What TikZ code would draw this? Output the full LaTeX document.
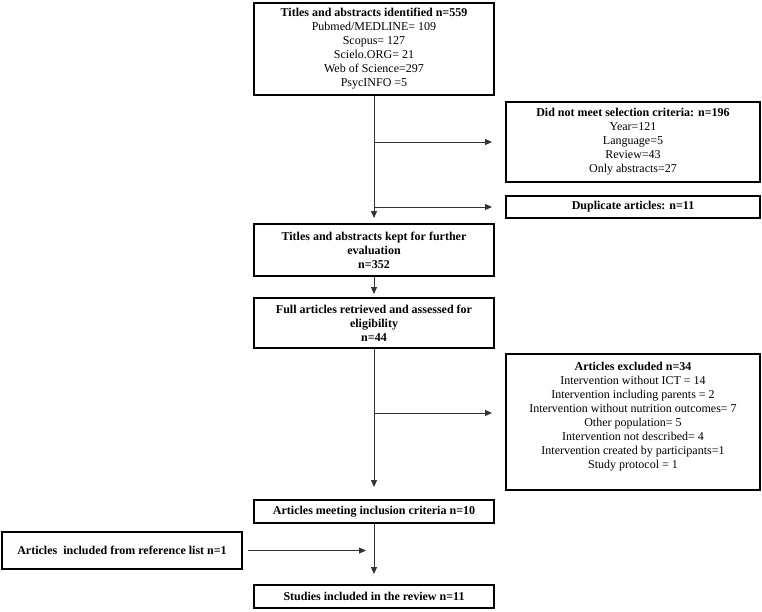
\documentclass[tikz,border=0pt]{standalone}
\usepackage{fontspec}
\setmainfont{Liberation Serif}
\usetikzlibrary{arrows.meta,positioning,calc}
\definecolor{FlowGray}{HTML}{333333}

\begin{document}
\begin{tikzpicture}[x=1pt,y=-1pt,>={Triangle[length=7pt,width=6pt]},
  box/.style={draw,line width=2pt,align=center,inner sep=2pt,
    font=\fontsize{12}{14}\selectfont},
  mainbox/.style={box,minimum width=240pt},
  sidebox/.style={box,minimum width=254pt},
  flow/.style={->,FlowGray,line width=0.8pt}]
  \useasboundingbox (0,0) rectangle (762,611);
  % central column
  \node[mainbox,minimum height=92pt] (ident) at (374,49)
    {\textbf{Titles and abstracts identified n=559}\\Pubmed/MEDLINE= 109\\Scopus= 127\\Scielo.ORG= 21\\Web of Science=297\\PsycINFO =5};
  \node[mainbox,minimum height=52pt] (kept) at (374,250)
    {\textbf{Titles and abstracts kept for further}\\\textbf{evaluation}\\\textbf{n=352}};
  \node[mainbox,minimum height=50pt] (full) at (374,323)
    {\textbf{Full articles retrieved and assessed for}\\\textbf{eligibility}\\\textbf{n=44}};
  \node[mainbox,minimum height=23pt] (meet) at (374,511.5)
    {\textbf{Articles meeting inclusion criteria n=10}};
  \node[mainbox,minimum height=23pt] (final) at (374,596.5)
    {\textbf{Studies included in the review n=11}};
  % exclusions on the right
  \node[sidebox,minimum height=80pt] (notmet) at (633,142)
    {\textbf{Did not meet selection criteria: n=196}\\Year=121\\Language=5\\Review=43\\Only abstracts=27};
  \node[sidebox,minimum height=22pt] (dup) at (633,207)
    {\textbf{Duplicate articles: n=11}};
  \node[sidebox,minimum height=136pt] (excl) at (633,422)
    {\textbf{Articles excluded n=34}\\Intervention without ICT = 14\\Intervention including parents = 2\\Intervention without nutrition outcomes= 7\\Other population= 5\\Intervention not described= 4\\Intervention created by participants=1\\Study protocol = 1\\[0pt]\mbox{}};
  % extra source on the left
  \node[box,minimum width=240pt,minimum height=37pt] (reflist) at (122,550.5)
    {\textbf{Articles~ included from reference list n=1}};

  \coordinate (split1) at (374,142);
  \coordinate (split2) at (374,207);
  \coordinate (split3) at (374,413);

  \draw[flow,shorten >=5pt] (ident.south) -- (kept.north);
  \draw[flow,shorten >=13pt] (split1) -- (notmet.west |- split1);
  \draw[flow,shorten >=13pt] (split2) -- (dup.west |- split2);
  \draw[flow,shorten >=3pt] (kept.south) -- (full.north);
  \draw[flow,shorten >=12pt] (full.south) -- (meet.north);
  \draw[flow,shorten >=13pt] (split3) -- (excl.west |- split3);
  \draw[flow,shorten >=10pt] (meet.south) -- (final.north);
  \draw[flow,shorten <=5pt,shorten >=8pt] (reflist.east) -- (reflist.east -| meet.south);
\end{tikzpicture}
\end{document}
